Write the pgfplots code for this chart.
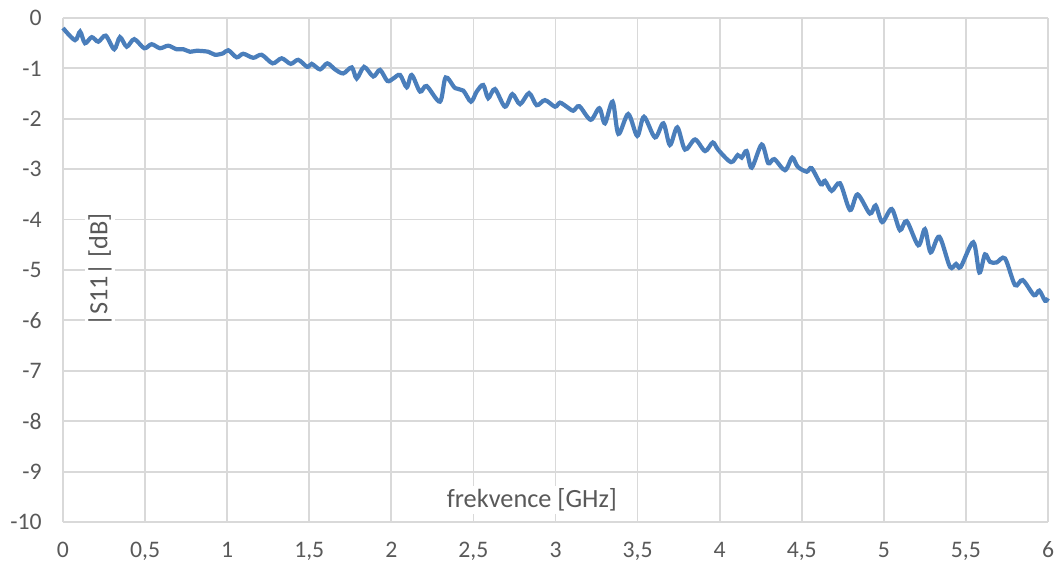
\documentclass[border=0pt]{standalone}
\usepackage{fontspec}
\setmainfont{Carlito}
\usepackage{pgfplots}
\usepackage{pgfplotstable}
\pgfplotsset{compat=1.18}
\definecolor{excelblue}{RGB}{74,126,187}
\definecolor{gridgray}{RGB}{217,217,217}
\definecolor{labelgray}{RGB}{89,89,89}
\pgfplotstableread{
x y
0 -0.2
0.073 -0.44
0.104 -0.27
0.134 -0.5
0.175 -0.38
0.215 -0.47
0.26 -0.35
0.312 -0.62
0.347 -0.38
0.388 -0.57
0.434 -0.42
0.495 -0.6
0.54 -0.52
0.591 -0.6
0.641 -0.55
0.692 -0.62
0.733 -0.62
0.774 -0.67
0.814 -0.65
0.885 -0.67
0.926 -0.73
0.976 -0.7
1.007 -0.64
1.058 -0.78
1.098 -0.71
1.159 -0.79
1.21 -0.73
1.277 -0.9
1.332 -0.8
1.387 -0.91
1.433 -0.83
1.488 -0.97
1.515 -0.91
1.566 -1.02
1.61 -0.9
1.657 -1.02
1.707 -1.1
1.759 -0.98
1.789 -1.2
1.834 -0.97
1.89 -1.16
1.931 -1.03
1.976 -1.25
2.012 -1.2
2.053 -1.13
2.094 -1.375
2.124 -1.13
2.175 -1.46
2.215 -1.35
2.296 -1.66
2.331 -1.18
2.388 -1.39
2.438 -1.44
2.485 -1.66
2.52 -1.46
2.56 -1.33
2.59 -1.59
2.631 -1.41
2.692 -1.76
2.737 -1.51
2.784 -1.71
2.839 -1.49
2.885 -1.73
2.936 -1.63
2.997 -1.76
3.027 -1.68
3.068 -1.76
3.108 -1.84
3.145 -1.75
3.214 -2.02
3.267 -1.79
3.301 -2.09
3.348 -1.66
3.383 -2.3
3.443 -1.905
3.498 -2.34
3.539 -1.96
3.606 -2.37
3.657 -2.09
3.697 -2.52
3.742 -2.17
3.789 -2.61
3.85 -2.41
3.911 -2.64
3.958 -2.47
3.992 -2.62
4.069 -2.86
4.11 -2.72
4.134 -2.77
4.164 -2.64
4.195 -2.97
4.256 -2.51
4.296 -2.88
4.333 -2.8
4.398 -3.02
4.442 -2.77
4.475 -2.95
4.53 -3.05
4.56 -2.98
4.617 -3.3
4.641 -3.23
4.682 -3.43
4.733 -3.28
4.794 -3.81
4.84 -3.5
4.915 -3.88
4.95 -3.72
4.99 -4.05
5.048 -3.79
5.098 -4.21
5.139 -4.03
5.21 -4.51
5.25 -4.19
5.285 -4.65
5.338 -4.34
5.403 -4.94
5.44 -4.88
5.468 -4.94
5.545 -4.45
5.582 -5.05
5.616 -4.69
5.647 -4.84
5.687 -4.85
5.738 -4.77
5.799 -5.3
5.846 -5.2
5.915 -5.5
5.947 -5.41
5.982 -5.61
6.0 -5.56
}\datatable
\begin{document}
\begin{tikzpicture}
\begin{axis}[name=ax,
  scale only axis, width=492.5pt, height=252pt,
  xmin=0, xmax=6, ymin=-10, ymax=0,
  xtick={0,0.5,1,1.5,2,2.5,3,3.5,4,4.5,5,5.5,6},
  xticklabels={0,{0,5},1,{1,5},2,{2,5},3,{3,5},4,{4,5},5,{5,5},6},
  ytick={-10,-9,-8,-7,-6,-5,-4,-3,-2,-1,0},
  yticklabels={-10,-9,-8,-7,-6,-5,-4,-3,-2,-1,0},
  grid=major,
  major grid style={draw=gridgray, line width=0.9pt},
  axis line style={draw=none},
  major tick length=0pt,
  tick label style={font=\fontsize{11.85}{14}\selectfont, text=labelgray, inner sep=0pt},
  xticklabel style={anchor=base, yshift=-17.5pt},
  yticklabel style={anchor=east, xshift=-10.5pt},
  xlabel={frekvence [GHz]},
  ylabel={|S11| [dB]},
  label style={font=\fontsize{13.15}{15}\selectfont, text=labelgray, fill=white, inner sep=1.5pt},
  xlabel style={at={(axis description cs:0.476,0.0437)}, anchor=center},
  ylabel style={at={(axis description cs:0.0376,0.5)}, anchor=center, rotate=0},
  clip=false,
]
\addplot[draw=excelblue, line width=2.1pt, smooth, tension=0.5] table[x=x,y=y] {\datatable};
\end{axis}
\pgfresetboundingbox
\path ([xshift=-31.5pt,yshift=-25pt]ax.south west) rectangle ([xshift=7.5pt,yshift=9pt]ax.north east);
\end{tikzpicture}
\end{document}
